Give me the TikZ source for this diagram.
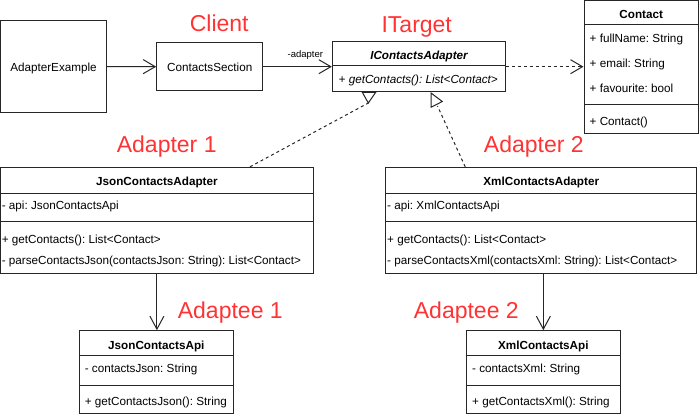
\documentclass[tikz,border=0pt]{standalone}
\usepackage{fontspec}
\setmainfont{Liberation Sans}
\usetikzlibrary{arrows.meta}
\definecolor{lblred}{HTML}{FF3333}
\definecolor{strk}{HTML}{262626}
\frenchspacing
\begin{document}
\begin{tikzpicture}[x=1pt,y=-1pt,
  cls/.style={draw=strk, line width=1pt, rectangle, inner sep=0pt, fill=white},
  txt/.style={inner sep=0pt, font=\fontsize{11.7}{13}\selectfont},
  mem/.style={txt, anchor=base west},
  ttl/.style={inner sep=0pt, anchor=base, font=\bfseries\fontsize{11.7}{13}\selectfont},
  lbl/.style={inner sep=0pt, anchor=base, text=lblred, font=\fontsize{23}{26}\selectfont},
  ln/.style={draw=strk, line width=1pt},
  arr/.style={ln, -{Straight Barb[length=12pt,width=14pt]}},
  dsh/.style={ln, dash pattern=on 3pt off 3pt},
]
\useasboundingbox (0,0) rectangle (700,417);

% red role labels
\node[lbl] (lclient) at (219.2,31.7) {Client};
\node[lbl] (ltarget) at (416.7,32.3) {ITarget};
\node[lbl] (lad1) at (166.7,152.3) {Adapter 1};
\node[lbl] (lad2) at (533.8,152.3) {Adapter 2};
\node[lbl] (lae1) at (230.3,318.3) {Adaptee 1};
\node[lbl] (lae2) at (466.3,318.3) {Adaptee 2};

% boxes
\node[cls, minimum width=106pt, minimum height=91pt] (ae) at (53.5,66.5) {};
\node[cls, minimum width=106pt, minimum height=48pt] (cs) at (209.7,66.7) {};
\node[cls, minimum width=173.4pt, minimum height=50pt] (ica) at (419,66.7) {};
\node[cls, minimum width=114.5pt, minimum height=132.3pt] (contact) at (641.25,67.15) {};
\node[cls, minimum width=312.8pt, minimum height=106pt] (json) at (156.9,220.3) {};
\node[cls, minimum width=311pt, minimum height=106pt] (xml) at (541.2,220.3) {};
\node[cls, minimum width=154pt, minimum height=82.6pt] (japi) at (156.3,372) {};
\node[cls, minimum width=153.3pt, minimum height=82.6pt] (xapi) at (543.35,372) {};

% dividers
\draw[ln] (332.3,66) -- (505.7,66);
\draw[ln] (584,25) -- (698.5,25);
\draw[ln] (584,104.5) -- (698.5,104.5);
\draw[ln] (0.5,193.3) -- (313.3,193.3);
\draw[ln] (0.5,221) -- (313.3,221);
\draw[ln] (385.7,193.3) -- (696.7,193.3);
\draw[ln] (385.7,221) -- (696.7,221);
\draw[ln] (79.3,355.7) -- (233.3,355.7);
\draw[ln] (79.3,385) -- (233.3,385);
\draw[ln] (466.7,355.7) -- (620,355.7);
\draw[ln] (466.7,385) -- (620,385);

% texts
\node[txt, anchor=base] (aet) at (53.5,71.7) {AdapterExample};
\node[txt, anchor=base] (cst) at (209.7,71.7) {ContactsSection};
\node[ttl, font=\bfseries\itshape\fontsize{11.7}{13}\selectfont] (icat) at (419,60) {IContactsAdapter};
\node[mem, font=\itshape\fontsize{11.7}{13}\selectfont] (icam) at (338.5,83.3) {+ getContacts(): List<Contact>};

\node[ttl] (ct) at (641.25,18.3) {Contact};
\node[mem] (cf1) at (589.5,42.7) {+ fullName: String};
\node[mem] (cf2) at (589.5,67.3) {+ email: String};
\node[mem] (cf3) at (589.5,92.3) {+ favourite: bool};
\node[mem] (cm1) at (589.5,125) {+ Contact()};

\node[ttl] (jt) at (156.9,185.3) {JsonContactsAdapter};
\node[mem] (jf1) at (1.6,209.3) {- api: JsonContactsApi};
\node[mem] (jm1) at (1.6,243.3) {+ getContacts(): List<Contact>};
\node[mem] (jm2) at (1.6,264) {- parseContactsJson(contactsJson: String): List<Contact>};

\node[ttl] (xt) at (541.2,185.3) {XmlContactsAdapter};
\node[mem] (xf1) at (387,209.3) {- api: XmlContactsApi};
\node[mem] (xm1) at (387,243.3) {+ getContacts(): List<Contact>};
\node[mem] (xm2) at (387,264) {- parseContactsXml(contactsXml: String): List<Contact>};

\node[ttl] (jat) at (156.3,349) {JsonContactsApi};
\node[mem] (jaf) at (84.6,372.7) {- contactsJson: String};
\node[mem] (jam) at (84.6,405) {+ getContactsJson(): String};

\node[ttl] (xat) at (543.35,349) {XmlContactsApi};
\node[mem] (xaf) at (472,372.7) {- contactsXml: String};
\node[mem] (xam) at (472,405) {+ getContactsXml(): String};

% connectors
\draw[arr] (ae.east) -- (cs.west);
\draw[arr] (cs.east) -- (ica.west);
\node[inner sep=0pt, anchor=base, font=\fontsize{9.5}{11}\selectfont] (adl) at (305.3,57.3) {-adapter};
\draw[dsh, -{Straight Barb[length=12pt,width=14pt]}] (ica.east) -- (contact.west |- ica.east);

% realization triangles
\coordinate (t1) at (368.3,103);
\coordinate (t2) at (437.5,106);
\draw[dsh] ([xshift=93.1pt]json.north) -- (t1);
\draw[dsh] ([xshift=-76pt]xml.north) -- (t2);
\draw[ln, fill=white, line join=miter] (362.3,92.3) -- (375.7,92.3) -- (t1) -- cycle;
\draw[ln, fill=white, line join=miter] (431,93) -- (431,107.3) -- (442.3,101.5) -- cycle;

\draw[ln, -{Straight Barb[length=13pt,width=14pt]}] (json.south) -- (json.south |- japi.north);
\draw[ln, -{Straight Barb[length=13pt,width=14pt]}] (xapi.north |- xml.south) -- (xapi.north);
\end{tikzpicture}
\end{document}
